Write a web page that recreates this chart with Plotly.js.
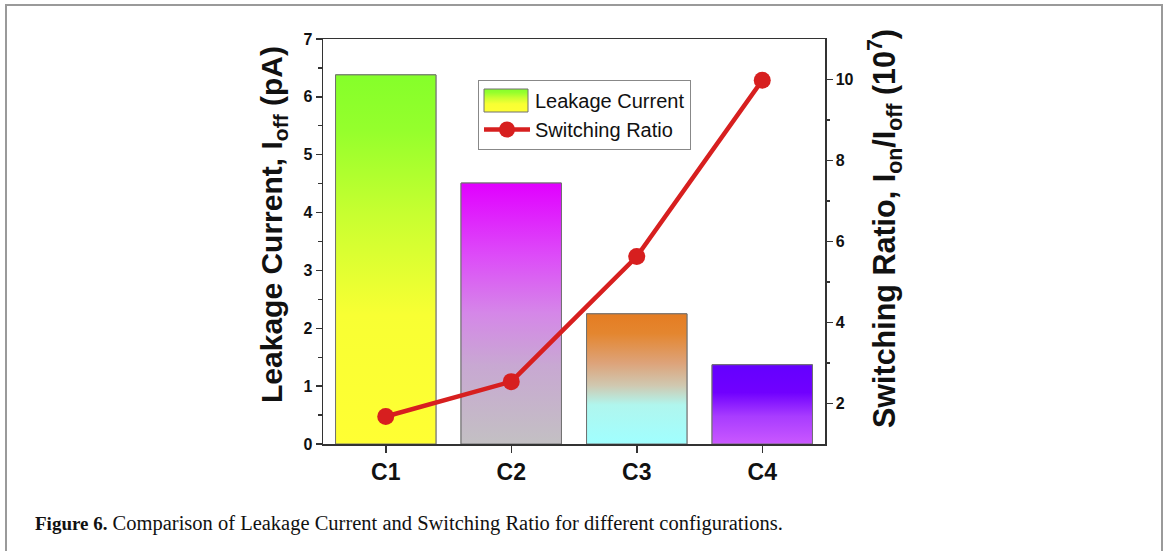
<!DOCTYPE html>
<html>
<head>
<meta charset="utf-8">
<script src="https://cdn.plot.ly/plotly-3.0.1.min.js"></script>
<style>
html,body{margin:0;padding:0;background:#fff;}
#chart{width:1168px;height:551px;}
</style>
</head>
<body>
<div id="chart"></div>
<script>
// ---- data ----
const categories = ['C1', 'C2', 'C3', 'C4'];
const leakageCurrent = [6.38, 4.51, 2.25, 1.37];      // pA (left axis)
const switchingRatio = [1.68, 2.54, 5.63, 9.98];      // x10^7 (right axis)
const leftTicks = [0, 1, 2, 3, 4, 5, 6, 7];
const rightTicks = [2, 4, 6, 8, 10];

// ---- styles ----
const barGradients = [
  [[0, '#ffff33'], [0.35, '#f8ff33'], [0.62, '#c8ff30'], [0.85, '#95ff2c'], [1, '#85ff2a']],
  [[0, '#c3c0c3'], [0.3, '#c8a8d2'], [0.5, '#d587e8'], [0.72, '#dd4cf8'], [1, '#e100ff']],
  [[0, '#a0ffff'], [0.3, '#b0f6ee'], [0.45, '#d0c8b0'], [0.62, '#dda37a'], [0.85, '#e4862f'], [1, '#e57c22']],
  [[0, '#ca58ff'], [0.35, '#a83cff'], [0.65, '#7000ff'], [1, '#6400ff']]
];
const barHalfWidth = 0.4;
const outline = '#707070';
const red = '#d71f1f';
const sans = 'Liberation Sans, Arial, sans-serif';

const xIdx = categories.map((c, i) => i);

const traces = [];
// underlying bar trace (carries the data)
traces.push({
  type: 'bar', x: xIdx, y: leakageCurrent, width: barHalfWidth * 2,
  marker: {color: '#dddddd', line: {color: outline, width: 1}},
  showlegend: false, hoverinfo: 'skip'
});
// gradient fills drawn over each bar
leakageCurrent.forEach((v, i) => {
  traces.push({
    type: 'scatter', mode: 'lines',
    x: [i - barHalfWidth, i + barHalfWidth, i + barHalfWidth, i - barHalfWidth, i - barHalfWidth],
    y: [0, 0, v, v, 0],
    fill: 'toself',
    fillgradient: {type: 'vertical', colorscale: barGradients[i]},
    line: {color: outline, width: 1},
    name: 'Leakage Current',
    showlegend: i === 0,
    legendrank: 1,
    hoverinfo: 'skip'
  });
});
traces.push({
  type: 'scatter', mode: 'lines+markers',
  x: xIdx, y: switchingRatio, yaxis: 'y2',
  line: {color: red, width: 4.5},
  marker: {color: red, size: 17, symbol: 'circle'},
  name: 'Switching Ratio', legendrank: 2, hoverinfo: 'skip'
});

// plot area in pixels: x 323..825, y 39..444
const L = 323, R = 825, T = 39, B = 444;
const px = p => (p - L) / (R - L);
const py = p => (B - p) / (B - T);

const layout = {
  width: 1168, height: 551,
  margin: {l: L, r: 1168 - R, t: T, b: 551 - B, pad: 0},
  paper_bgcolor: '#ffffff', plot_bgcolor: '#ffffff',
  font: {family: sans, color: '#111'},
  showlegend: true,
  legend: {
    x: px(478), y: py(80), xanchor: 'left', yanchor: 'top',
    bgcolor: '#ffffff', bordercolor: '#888', borderwidth: 1,
    font: {family: sans, size: 20, color: '#111'},
    itemwidth: 46, traceorder: 'normal', tracegroupgap: 0
  },
  xaxis: {
    type: 'linear', range: [-0.5, 3.5],
    tickmode: 'array', tickvals: xIdx, ticktext: categories,
    ticks: 'outside', ticklen: 7, tickwidth: 1.5, tickcolor: '#333',
    showline: true, linecolor: '#333', linewidth: 1.5, mirror: true,
    showgrid: false, zeroline: false,
    tickfont: {family: sans, size: 23, color: '#111', weight: 'bold'}
  },
  yaxis: {
    range: [0, 7], tickmode: 'array', tickvals: leftTicks,
    ticks: 'outside', ticklen: 6, tickwidth: 1.5, tickcolor: '#333',
    minor: {dtick: 0.5, ticks: 'outside', ticklen: 3.5, tickwidth: 1.2, tickcolor: '#333'},
    showline: true, linecolor: '#333', linewidth: 1.5,
    showgrid: false, zeroline: false,
    tickfont: {family: sans, size: 16, color: '#111', weight: 'bold'},
    title: {text: '<b>Leakage Current, I<sub>off</sub> (pA)</b>', standoff: 12,
            font: {family: sans, size: 30, color: '#111'}}
  },
  yaxis2: {
    overlaying: 'y', side: 'right', range: [1, 11],
    tickmode: 'array', tickvals: rightTicks,
    ticks: 'outside', ticklen: 6, tickwidth: 1.5, tickcolor: '#333',
    minor: {tickmode: 'array', tickvals: [3, 5, 7, 9], ticks: 'outside', ticklen: 3.5, tickwidth: 1.2, tickcolor: '#333'},
    showline: true, linecolor: '#333', linewidth: 1.5,
    showgrid: false, zeroline: false,
    tickfont: {family: sans, size: 16, color: '#111', weight: 'bold'},
    title: {text: '<b>Switching Ratio, I<sub>on</sub>/I<sub>off</sub> (10<sup>7</sup>)</b>', standoff: 19,
            font: {family: sans, size: 30.5, color: '#111'}}
  },
  shapes: [{
    type: 'rect', xref: 'paper', yref: 'paper', layer: 'below',
    x0: px(6), x1: px(1162), y0: py(570), y1: py(5),
    line: {color: '#9a9a9a', width: 2}, fillcolor: 'rgba(0,0,0,0)'
  }],
  annotations: [{
    xref: 'paper', yref: 'paper', x: px(33), y: py(523),
    xanchor: 'left', yanchor: 'middle', showarrow: false,
    text: '<b><span style="font-size:19px">Figure 6.</span></b> Comparison of Leakage Current and Switching Ratio for different configurations.',
    font: {family: 'Liberation Serif, Times New Roman, serif', size: 20.5, color: '#111'}
  }]
};

Plotly.newPlot('chart', traces, layout, {staticPlot: true, displayModeBar: false}).then(gd => {
  // enlarge the gradient swatch of the "Leakage Current" legend entry
  gd.querySelectorAll('.legend .traces').forEach(tr => {
    const fp = tr.querySelector('.legendfill path');
    if (fp && fp.getAttribute('d')) {
      fp.setAttribute('d', 'M5,-11.5h44v23h-44z');
      fp.style.stroke = outline;
      fp.style.strokeWidth = '1px';
      tr.querySelectorAll('.legendlines path').forEach(p => p.style.display = 'none');
    }
  });
  // the axis titles sit a little above the axis centre in the reference
  const yt = gd.querySelector('.g-ytitle');
  if (yt) yt.setAttribute('transform', 'translate(0,-17)');
  const y2t = gd.querySelector('.g-y2title');
  if (y2t) y2t.setAttribute('transform', 'translate(2,-13)');
});
</script>
</body>
</html>
